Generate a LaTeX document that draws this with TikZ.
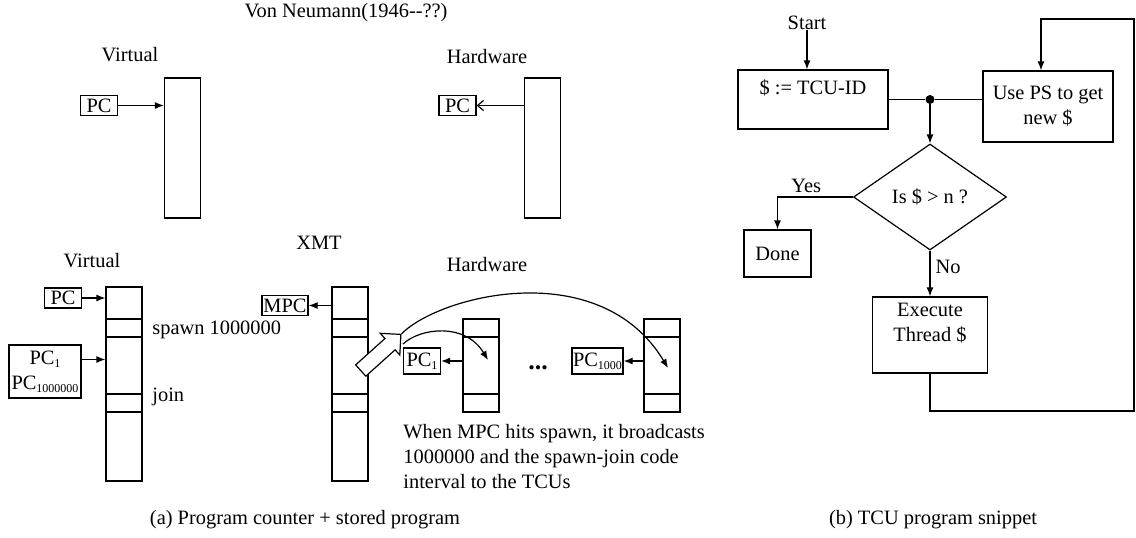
\documentclass[tikz,border=0pt]{standalone}
\usepackage{fontspec}
\setmainfont{Liberation Serif}
\usetikzlibrary{arrows.meta, positioning, shapes.geometric, shapes.arrows}

\newcommand{\regsub}[1]{\raisebox{-0.35ex}{\fontsize{6}{7}\selectfont #1}}

\begin{document}
\begin{tikzpicture}[
    x=0.5pt, y=-0.5pt,
    every node/.style={font=\fontsize{10.2}{12.5}\selectfont},
    lbl/.style={inner sep=0pt},
    reg/.style={draw, semithick, inner sep=0pt, minimum width=18.5pt, minimum height=10pt},
    mem/.style={draw, semithick, inner sep=0pt, minimum width=18pt},
    box/.style={draw, semithick, align=center, inner sep=0pt},
    arr/.style={-{Latex[length=4.5pt,width=3.5pt]}, semithick}
  ]
  \useasboundingbox (0,0) rectangle (1136,537);

  % von Neumann part
  \node[lbl] (vn)    at (346,13)  {Von Neumann(1946-{}-??)};
  \node[lbl] (virt1) at (130,55)  {Virtual};
  \node[lbl] (hw1)   at (487,57)  {Hardware};
  \node[mem, minimum height=70pt] (vmem1) at (182.5,148) {};
  \node[mem, minimum height=70pt] (hmem1) at (542.5,148) {};
  \node[reg] (vpc) at (99,105.5)  {PC};
  \node[reg] (hpc) at (457.5,105.5) {PC};
  \draw[arr] (vpc.east) -- (vmem1.west |- vpc.east);
  \draw[semithick, -{Straight Barb[length=3pt,width=5pt]}] (hmem1.west |- hpc.east) -- (hpc.east);

  % XMT part
  \node[lbl] (virt2) at (92,261)  {Virtual};
  \node[lbl] (xmt)   at (319,243) {XMT};
  \node[lbl] (hw2)   at (487,265) {Hardware};
  \node[mem, minimum height=97pt] (vmem2) at (124,384) {};
  \node[mem, minimum height=97pt] (mmem)  at (350,384) {};
  \foreach \m in {vmem2, mmem}
    \foreach \y in {319,337,394,412}
      \draw[semithick] (\m.west |- 0,\y) -- (\m.east |- 0,\y);
  \node[mem, minimum height=46.5pt] (tcu1) at (481,365.5) {};
  \node[mem, minimum height=46.5pt] (tcuk) at (662,365.5) {};
  \foreach \m in {tcu1, tcuk}
    \foreach \y in {337,394}
      \draw[semithick] (\m.west |- 0,\y) -- (\m.east |- 0,\y);

  \node[reg] (pc) at (63,298) {PC};
  \node[reg, align=center, minimum width=36pt, minimum height=26.5pt] (pcs) at (45,371.5)
    {PC\regsub{1}\\PC\regsub{1000000}};
  \node[reg, minimum width=23pt] (mpc) at (285,305.5) {MPC};
  \node[reg, minimum height=13pt] (pc1) at (422,361) {PC\regsub{1}};
  \node[reg, minimum width=25.5pt, minimum height=13pt] (pck) at (597.5,361) {PC\regsub{1000}};
  \coordinate (pcsout) at ([yshift=6pt]pcs.east);

  \node[lbl, anchor=west] (spawn) at (152,330) {spawn 1000000};
  \node[lbl, anchor=west] (join)  at (152,397) {join};
  \node[lbl, font=\fontsize{13}{14}\selectfont] (dots) at (538,368) {\textbf{...}};
  \node[lbl, anchor=north west, align=left] (note) at (403,424)
    {When MPC hits spawn, it broadcasts\\1000000 and the spawn-join code\\interval to the TCUs};

  \draw[arr] (pc.east) -- (vmem2.west |- pc.east);
  \draw[arr] (pcsout) -- (vmem2.west |- pcsout);
  \draw[arr] (mmem.west |- mpc.east) -- (mpc.east);
  \draw[arr] (tcu1.west |- pc1.east) -- (pc1.east);
  \draw[arr] (tcuk.west |- pck.east) -- (pck.east);

  % broadcast
  \node[draw, semithick, fill=white, single arrow, single arrow head extend=3.5pt,
        inner sep=3.5pt, minimum width=14pt, minimum height=27pt, rotate=42] (bcast) at (378,355) {};
  \coordinate (bigin)   at (668,368);
  \coordinate (smallout) at (403,344);
  \coordinate (smallin)  at (488,360);
  \draw[arr] (bcast.tip) .. controls (440,295) and (600,255) .. (bigin);
  \draw[arr] (smallout) .. controls (420,328) and (465,322) .. (smallin);

  % TCU flowchart
  \node[lbl] (start) at (807,23) {Start};
  \node[box, minimum width=75pt, minimum height=29.5pt] (init) at (813,99.5) {\$ := TCU-ID\\ \mbox{}};
  \node[box, minimum width=65pt, minimum height=35.5pt] (ps) at (1048,106.5) {Use PS to get\\new \$};
  \node[draw, semithick, diamond, inner sep=0pt, minimum width=76.5pt, minimum height=53pt] (test) at (930,197) {Is \$ > n ?};
  \node[box, minimum width=33.5pt, minimum height=23.5pt] (done) at (777.5,253.5) {Done};
  \node[box, minimum width=57.5pt, minimum height=38pt] (exec) at (930,335) {Execute\\Thread \$\\ \mbox{}};
  \node[circle, fill, inner sep=0pt, minimum size=4.5pt] (jn) at (930,99.5) {};
  \coordinate (lb) at (1134,411);
  \coordinate (lt) at (1134,19);

  \draw[arr] (start.south) -- (start.south |- init.north);
  \draw[semithick] (init.east) -- (jn) -- (ps.west |- jn);
  \draw[arr] (jn) -- (test.north);
  \draw[arr] (test.west) -| (done.north) node[pos=0.31, above, inner sep=2pt] {Yes};
  \draw[arr] (test.south) -- (exec.north) node[pos=0.35, right, inner sep=2.5pt] {No};
  \draw[arr] (exec.south) |- (lb) -- (lt) -| ([xshift=-3.5pt]ps.north);

  % captions
  \node[lbl] (capa) at (305,520) {(a) Program counter + stored program};
  \node[lbl] (capb) at (933,520) {(b) TCU program snippet};
\end{tikzpicture}
\end{document}
